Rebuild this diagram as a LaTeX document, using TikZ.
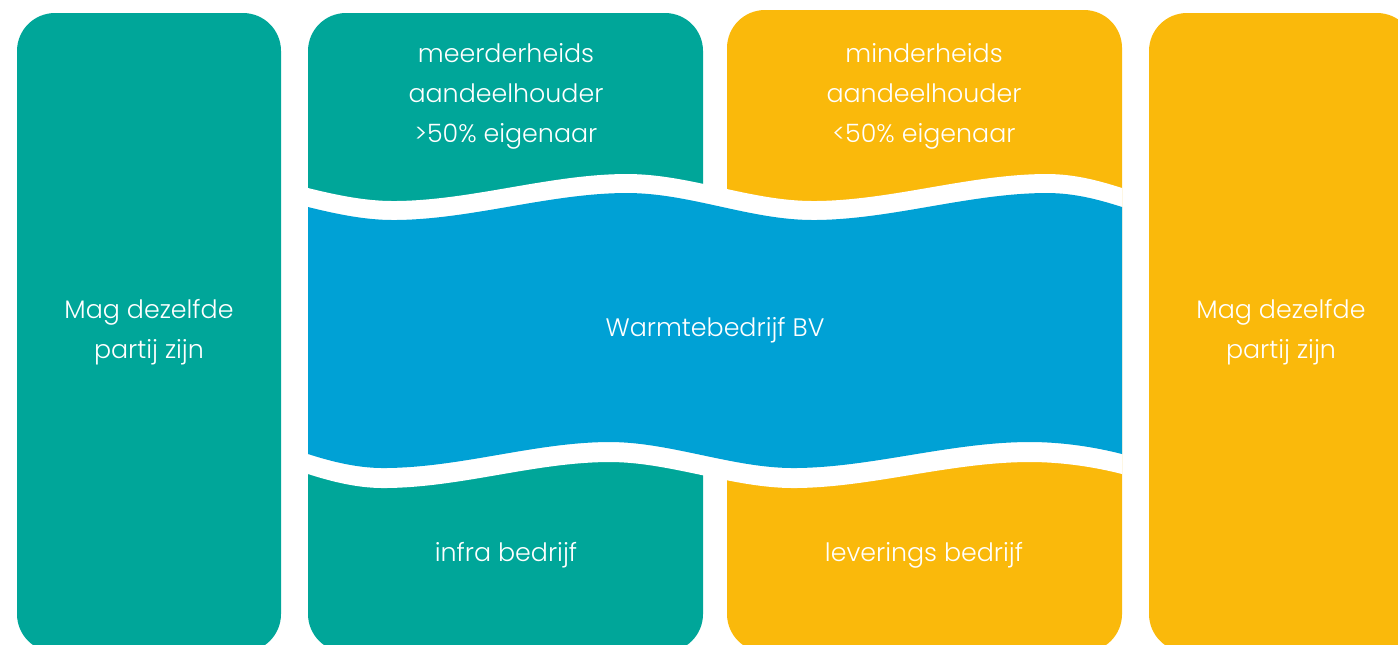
\documentclass[tikz,border=0pt]{standalone}
\usepackage{fontspec}
\setmainfont{Poppins}[UprightFont=* Light]
\definecolor{teal}{RGB}{0,166,153}
\definecolor{wblue}{RGB}{0,161,213}
\definecolor{wyellow}{RGB}{250,185,11}
\newcommand\topwave[1]{(308,207+#1) .. controls (336,214+#1) and (365,220+#1) .. (393,220+#1) .. controls (470,220+#1) and (550,193+#1) .. (627,193+#1) .. controls (690,193+#1) and (750,220+#1) .. (813,220+#1) .. controls (890,220+#1) and (970,193+#1) .. (1047,193+#1) .. controls (1075,193+#1) and (1100,200+#1) .. (1122,207+#1)}
\newcommand\botwaveback[1]{(1122,454+#1) .. controls (1095,447+#1) and (1062,442+#1) .. (1030,442+#1) .. controls (950,442+#1) and (870,468+#1) .. (793,468+#1) .. controls (733,468+#1) and (670,442+#1) .. (610,442+#1) .. controls (535,442+#1) and (460,468+#1) .. (383,468+#1) .. controls (358,468+#1) and (333,462+#1) .. (308,454+#1)}
\begin{document}
\begin{tikzpicture}[x=0.01cm,y=-0.01cm,
  col/.style={rounded corners=10.8pt},
  lbl/.style={text=white,align=center,font=\fontsize{7.2}{11.4}\selectfont}]
\useasboundingbox (0,0) rectangle (1398,644);
\fill[teal,col] (17,13) rectangle (281,652);
\fill[teal,col] (308,13) rectangle (703,652);
\fill[wyellow,col] (727,10) rectangle (1122,652);
\fill[wyellow,col] (1149,13) rectangle (1415,652);
\fill[white] \topwave{-19} -- \botwaveback{20} -- cycle;
\fill[wblue] \topwave{0} -- \botwaveback{0} -- cycle;
\node[lbl] (left) at (149,332) {Mag dezelfde\\partij zijn};
\node[lbl] (right) at (1281,332) {Mag dezelfde\\partij zijn};
\node[lbl] (maj) at (506,96) {meerderheids\\aandeelhouder\\>50\% eigenaar};
\node[lbl] (min) at (924,96) {minderheids\\aandeelhouder\\<50\% eigenaar};
\node[lbl] (bv) at (715,330) {Warmtebedrijf BV};
\node[lbl] (infra) at (506,555) {infra bedrijf};
\node[lbl] (lev) at (924,555) {leverings bedrijf};
\end{tikzpicture}
\end{document}
